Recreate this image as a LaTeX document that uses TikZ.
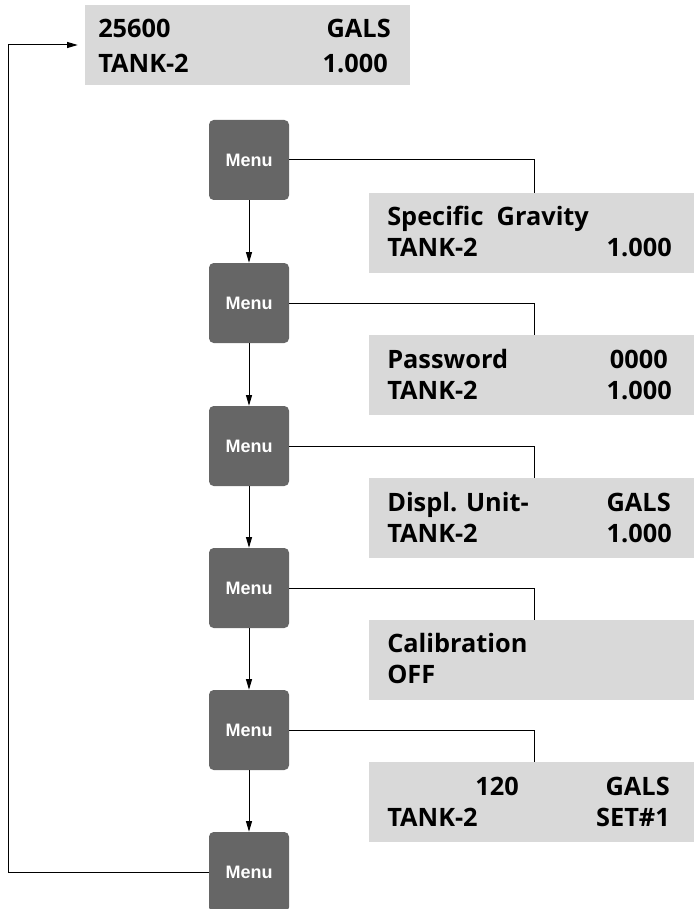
\documentclass[tikz,border=0pt]{standalone}
\usepackage{fontspec}
\setmainfont{Open Sans}
\newfontfamily\menufont{Liberation Sans}
\usetikzlibrary{arrows.meta}
\definecolor{menugray}{HTML}{666666}
\definecolor{dispgray}{HTML}{D9D9D9}
\begin{document}
\begin{tikzpicture}[x=0.75pt,y=-0.75pt,
  menubox/.style={fill=menugray, rounded corners=3.5pt, minimum width=60pt, minimum height=60pt, inner sep=0pt, text=white, font=\menufont\bfseries\fontsize{13.5}{15}\selectfont},
  display/.style={fill=dispgray, minimum width=243.75pt, minimum height=60pt, inner sep=0pt},
  dtext/.style={inner sep=0pt, font=\bfseries\fontsize{19}{22}\selectfont},
  conn/.style={line width=0.75pt},
  flow/.style={line width=0.75pt, -{Triangle[length=8pt,width=4.5pt]}}
]
\useasboundingbox (0,0) rectangle (694,909);
\clip (0,0) rectangle (694,909);

% top display
\node[display] (top) at (247.5,45) {};
\node[dtext, anchor=base west] (t1l) at (98,38) {25600};
\node[dtext, anchor=base east] (t1r) at (391,38) {GALS};
\node[dtext, anchor=base west] (t2l) at (98,73) {TANK-2};
\node[dtext, anchor=base east] (t2r) at (388,73) {1.000};

% menu buttons
\foreach \i/\y in {1/160,2/303,3/446,4/588,5/730,6/872}
  \node[menubox] (m\i) at (249,\y) {Menu};

% displays
\foreach \i/\y in {1/233,2/375,3/518,4/660,5/802}
  \node[display] (d\i) at (531.5,\y) {};

% display texts
\node[dtext, anchor=base west] (a1) at (387,226) {Specific\ \ Gravity};
\node[dtext, anchor=base west] (a2) at (387,257) {TANK-2};
\node[dtext, anchor=base east] (a3) at (672,257) {1.000};

\node[dtext, anchor=base west] (b1) at (387,368) {Password};
\node[dtext, anchor=base east] (b2) at (668,368) {0000};
\node[dtext, anchor=base west] (b3) at (387,399) {TANK-2};
\node[dtext, anchor=base east] (b4) at (672,399) {1.000};

\node[dtext, anchor=base west] (c1) at (387,511) {Displ. Unit-};
\node[dtext, anchor=base east] (c2) at (671,511) {GALS};
\node[dtext, anchor=base west] (c3) at (387,542) {TANK-2};
\node[dtext, anchor=base east] (c4) at (672,542) {1.000};

\node[dtext, anchor=base west] (e1) at (387,652) {Calibration};
\node[dtext, anchor=base west] (e2) at (387,683) {OFF};

\node[dtext, anchor=base east] (f1) at (519,795) {120};
\node[dtext, anchor=base east] (f2) at (670,795) {GALS};
\node[dtext, anchor=base west] (f3) at (387,826) {TANK-2};
\node[dtext, anchor=base east] (f4) at (670,826) {SET\#1};

% connectors menu -> display
\foreach \i in {1,...,5}
  \draw[conn] (m\i.east) -| ([xshift=1.9pt]d\i.north);

% vertical arrows between menus
\foreach \i/\j in {1/2,2/3,3/4,4/5,5/6}
  \draw[flow] (m\i.south) -- (m\j.north);

% return loop
\coordinate (lc) at (8,45);
\draw[flow] (m6.west) -| (lc) -- ([xshift=-5.25pt]top.west);
\end{tikzpicture}
\end{document}
